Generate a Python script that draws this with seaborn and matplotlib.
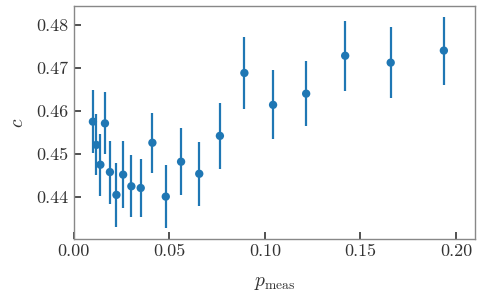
import numpy as np
import pandas as pd
import seaborn as sns
import matplotlib.pyplot as plt

# data
p_meas = [0.0101, 0.0119, 0.0140, 0.0164, 0.0190, 0.0224, 0.0259, 0.0302,
          0.0351, 0.0412, 0.0482, 0.0562, 0.0657, 0.0765, 0.0893, 0.1043,
          0.1216, 0.1420, 0.1658, 0.1936]
c_vals = [0.4575, 0.4521, 0.4475, 0.4571, 0.4458, 0.4405, 0.4452, 0.4425,
          0.4421, 0.4526, 0.4401, 0.4482, 0.4454, 0.4542, 0.4688, 0.4614,
          0.4640, 0.4728, 0.4712, 0.4740]
c_err = [0.0073, 0.0071, 0.0072, 0.0072, 0.0073, 0.0074, 0.0077, 0.0072,
         0.0068, 0.0070, 0.0074, 0.0078, 0.0074, 0.0077, 0.0084, 0.0080,
         0.0076, 0.0081, 0.0082, 0.0079]

df = pd.DataFrame({'p': p_meas, 'c': c_vals, 'err': c_err})

sns.set_theme(style='ticks', palette='tab10')
plt.rcParams['font.family'] = 'serif'
plt.rcParams['font.serif'] = ['cmr10', 'DejaVu Serif']
plt.rcParams['mathtext.fontset'] = 'cm'
plt.rcParams['axes.formatter.use_mathtext'] = True

fig, ax = plt.subplots(figsize=(4.81, 2.97), dpi=100)
blue = sns.color_palette('tab10')[0]

ax.errorbar(df['p'], df['c'], yerr=df['err'], fmt='none', ecolor=blue,
            elinewidth=1.6, capsize=0)
sns.scatterplot(data=df, x='p', y='c', ax=ax, color=blue, s=36,
                edgecolor='none', zorder=3)

ax.set_xlim(0, 0.21)
ax.set_xticks([0.0, 0.05, 0.10, 0.15, 0.20])
ax.set_yticks([0.44, 0.45, 0.46, 0.47, 0.48])
ax.xaxis.set_major_formatter(plt.FormatStrFormatter('%.2f'))
ax.yaxis.set_major_formatter(plt.FormatStrFormatter('%.2f'))

ax.tick_params(direction='in', length=5, width=1.2, colors='#333333',
               labelsize=13, labelcolor='#333333')
for s in ax.spines.values():
    s.set_color('#888888')
    s.set_linewidth(1.0)

ax.set_xlabel(r'$p_{\rm meas}$', fontsize=14, color='#333333', labelpad=11)
ax.set_ylabel(r'$c$', fontsize=14, color='#333333', labelpad=7)

fig.subplots_adjust(left=0.153, right=0.988, top=0.98, bottom=0.195)
fig.savefig('out.png', dpi=100)
